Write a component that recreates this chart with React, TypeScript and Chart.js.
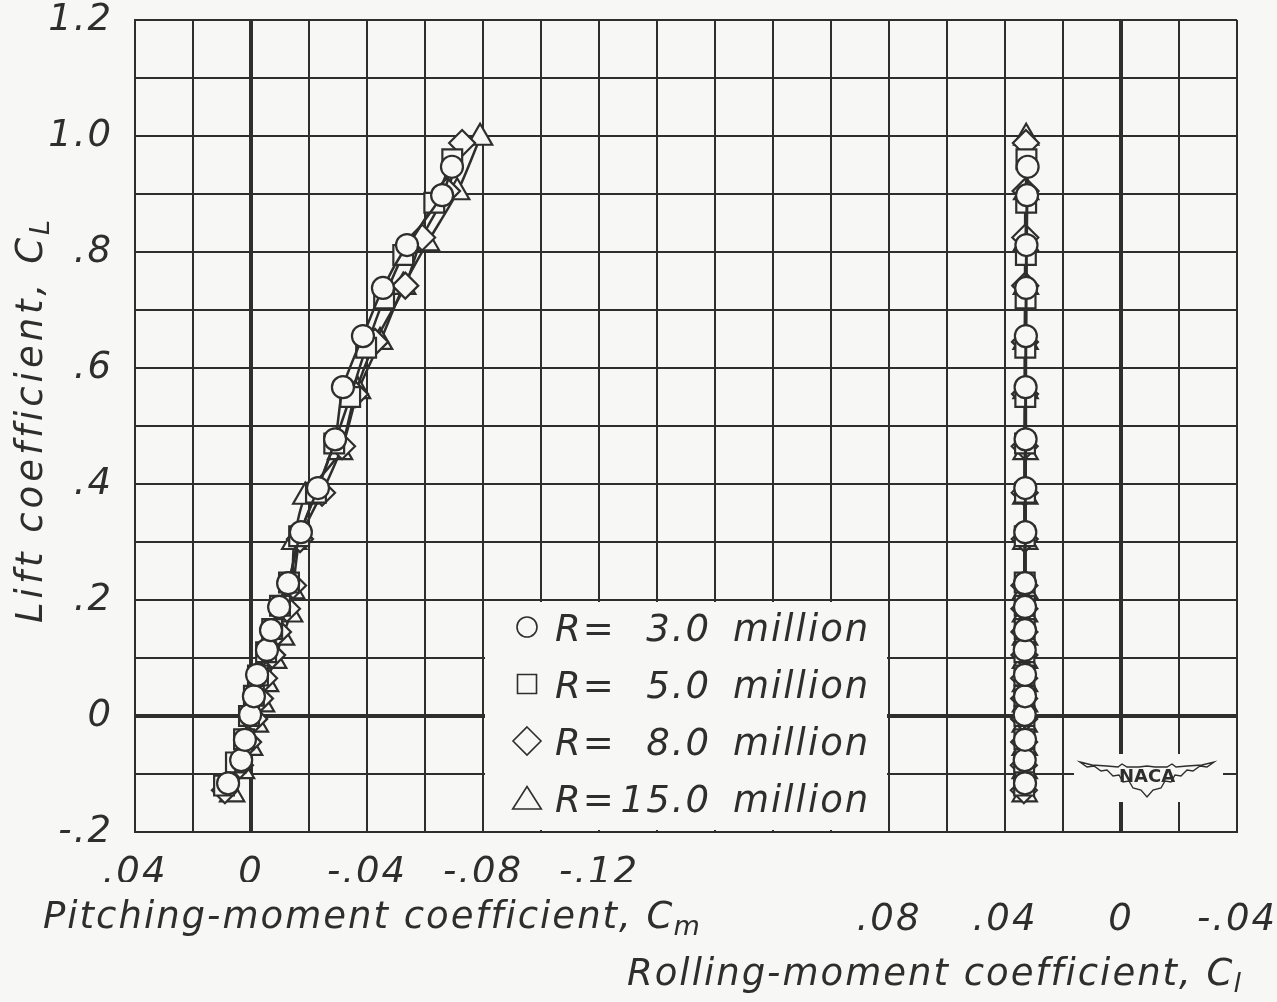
import React, { useEffect, useRef } from 'react';
import { Chart, registerables } from 'chart.js';

Chart.register(...registerables);

const FONT = "'DejaVu Sans', 'Liberation Sans', sans-serif";
const INK = '#2e2e2e';
const PAPER = '#f7f7f5';

// ---- data: lift coefficient / pitching-moment / rolling-moment for each Reynolds number ----
const reynoldsLabels = ['3.0', '5.0', '8.0', '15.0'];

const liftR3 = [-0.116, -0.076, -0.041, 0.002, 0.034, 0.071, 0.114, 0.148, 0.188, 0.229, 0.317, 0.393, 0.477, 0.567, 0.655, 0.738, 0.812, 0.898, 0.947];
const cmR3 = [0.0079, 0.0034, 0.0021, 0.0003, -0.001, -0.0021, -0.0055, -0.0069, -0.0097, -0.0128, -0.0172, -0.0231, -0.029, -0.0317, -0.0386, -0.0455, -0.0538, -0.0659, -0.0693];
const clR3 = [0.0331, 0.0332, 0.0331, 0.0332, 0.0331, 0.0331, 0.0332, 0.0331, 0.0331, 0.0331, 0.0330, 0.0330, 0.0329, 0.0329, 0.0328, 0.0327, 0.0326, 0.0324, 0.0322];

const liftR5 = [-0.12, -0.08, -0.04, 0.0, 0.035, 0.07, 0.11, 0.15, 0.19, 0.23, 0.31, 0.385, 0.47, 0.55, 0.635, 0.72, 0.795, 0.885, 0.96];
const cmR5 = [0.0093, 0.0052, 0.0024, 0.0007, -0.001, -0.0024, -0.0052, -0.0073, -0.01, -0.0131, -0.0166, -0.0224, -0.0287, -0.0342, -0.0397, -0.0459, -0.0525, -0.0632, -0.0694];
const clR5 = [0.0334, 0.0334, 0.0333, 0.0333, 0.0333, 0.0333, 0.0333, 0.0332, 0.0332, 0.0332, 0.0332, 0.0331, 0.0331, 0.0330, 0.0330, 0.0329, 0.0328, 0.0327, 0.0326];

const liftR8 = [-0.128, -0.085, -0.045, -0.005, 0.03, 0.065, 0.105, 0.145, 0.185, 0.225, 0.305, 0.385, 0.465, 0.555, 0.645, 0.742, 0.825, 0.905, 0.988];
const cmR8 = [0.009, 0.0038, 0.001, -0.0011, -0.0031, -0.0045, -0.0073, -0.0093, -0.0124, -0.0145, -0.0169, -0.0245, -0.0314, -0.0359, -0.0428, -0.0532, -0.059, -0.0676, -0.0728];
const clR8 = [0.0335, 0.0335, 0.0334, 0.0334, 0.0334, 0.0334, 0.0333, 0.0333, 0.0333, 0.0333, 0.0332, 0.0332, 0.0332, 0.0331, 0.0331, 0.0330, 0.0330, 0.0329, 0.0328];

const liftR15 = [-0.135, -0.095, -0.055, -0.015, 0.02, 0.055, 0.095, 0.135, 0.175, 0.215, 0.3, 0.378, 0.455, 0.56, 0.645, 0.74, 0.815, 0.903, 0.997];
const cmR15 = [0.0065, 0.0031, 0.0003, -0.0017, -0.0038, -0.0052, -0.008, -0.0107, -0.0135, -0.0142, -0.0149, -0.0187, -0.0307, -0.0369, -0.0445, -0.0525, -0.0607, -0.0711, -0.079];
const clR15 = [0.0332, 0.0332, 0.0332, 0.0332, 0.0331, 0.0331, 0.0331, 0.0331, 0.0331, 0.0330, 0.0330, 0.0330, 0.0329, 0.0329, 0.0329, 0.0328, 0.0328, 0.0327, 0.0327];

// ---- tick labels ----
const cmTickValues = [0.04, 0, -0.04, -0.08, -0.12];
const cmTickLabels = ['.04', '0', '-.04', '-.08', '-.12'];
const clTickValues = [0.08, 0.04, 0, -0.04];
const clTickLabels = ['.08', '.04', '0', '-.04'];
const liftTickValues = [1.2, 1.0, 0.8, 0.6, 0.4, 0.2, 0, -0.2];
const liftTickLabels = ['1.2', '1.0', '.8', '.6', '.4', '.2', '0', '-.2'];

const yTitle = ['Lift coefficient, C', 'L'];
const cmTitle = ['Pitching-moment coefficient, C', 'm'];
const clTitle = ['Rolling-moment coefficient, C', 'l'];

const lookup = (values: number[], labels: string[], v: number) => {
  const i = values.findIndex((t) => Math.abs(t - v) < 1e-6);
  return i >= 0 ? labels[i] : '';
};

const series = [
  { lift: liftR3, cm: cmR3, cl: clR3, style: 'circle', radius: 11 },
  { lift: liftR5, cm: cmR5, cl: clR5, style: 'rect', radius: 14 },
  { lift: liftR8, cm: cmR8, cl: clR8, style: 'rectRot', radius: 13 },
  { lift: liftR15, cm: cmR15, cl: clR15, style: 'triangle', radius: 14 },
];

function drawMarker(ctx: CanvasRenderingContext2D, style: string, x: number, y: number, s: number) {
  ctx.beginPath();
  if (style === 'circle') {
    ctx.arc(x, y, s, 0, Math.PI * 2);
  } else if (style === 'rect') {
    ctx.rect(x - s, y - s, 2 * s, 2 * s);
  } else if (style === 'rectRot') {
    const d = s * 1.4;
    ctx.moveTo(x, y - d);
    ctx.lineTo(x + d, y);
    ctx.lineTo(x, y + d);
    ctx.lineTo(x - d, y);
    ctx.closePath();
  } else {
    const w = s * 1.3;
    ctx.moveTo(x, y - s * 1.05);
    ctx.lineTo(x + w, y + s * 1.0);
    ctx.lineTo(x - w, y + s * 1.0);
    ctx.closePath();
  }
  ctx.fill();
  ctx.stroke();
}

function drawSubText(ctx: CanvasRenderingContext2D, main: string, sub: string, x: number, y: number, size: number) {
  ctx.font = `italic ${size}px ${FONT}`;
  ctx.textAlign = 'left';
  ctx.textBaseline = 'alphabetic';
  ctx.fillText(main, x, y);
  const w = ctx.measureText(main).width;
  ctx.font = `italic ${Math.round(size * 0.72)}px ${FONT}`;
  ctx.fillText(sub, x + w - 1, y + size * 0.2);
}

const paperPlugin = {
  id: 'paper',
  beforeDraw(chart: any) {
    const { ctx, width, height } = chart;
    ctx.save();
    ctx.fillStyle = PAPER;
    ctx.fillRect(0, 0, width, height);
    ctx.restore();
    (ctx as any).letterSpacing = '2px';
  },
};

const overlayPlugin = {
  id: 'overlay',
  afterDatasetsDraw(chart: any) {
    const { ctx, chartArea } = chart;
    const { x, x2, y } = chart.scales;
    ctx.save();
    // legend box
    const lx0 = x.getPixelForValue(-0.08);
    const lx1 = x2.getPixelForValue(0.08);
    const ly0 = y.getPixelForValue(0.2);
    const ly1 = chartArea.bottom;
    ctx.fillStyle = PAPER;
    ctx.fillRect(lx0 + 2, ly0 + 2, lx1 - lx0 - 4, ly1 - ly0 - 4);
    const rowY = [27, 84, 141, 198];
    const mSize = [10, 9.5, 10, 11];
    for (let i = 0; i < 4; i++) {
      const cy = ly0 + rowY[i];
      ctx.strokeStyle = INK;
      ctx.fillStyle = PAPER;
      ctx.lineWidth = 1.6;
      drawMarker(ctx, series[i].style, lx0 + 44, cy, mSize[i]);
      ctx.fillStyle = INK;
      ctx.font = `italic 37px ${FONT}`;
      ctx.textBaseline = 'alphabetic';
      ctx.textAlign = 'left';
      ctx.fillText('R=', lx0 + 72, cy + 14);
      ctx.textAlign = 'right';
      ctx.fillText(reynoldsLabels[i], lx0 + 228, cy + 14);
      ctx.textAlign = 'left';
      ctx.fillText('million', lx0 + 250, cy + 14);
    }

    // NACA logo
    const cx = x2.getPixelForValue(0) + 26;
    const cy = y.getPixelForValue(-0.1) + 2;
    ctx.fillStyle = PAPER;
    ctx.fillRect(cx - 73, cy - 22, 149, 48);
    const upper = [[-67, -14], [-55, -11], [-40, -10], [-29, -9], [-25, -12], [-20, -9], [-8, -9], [0, -10]];
    const lower = [[-67, -14], [-60, -9], [-53, -10], [-46, -5], [-40, -6], [-34, 0], [-28, -1], [-24, 6], [-18, 5], [-14, 12], [-6, 14], [0, 21]];
    ctx.beginPath();
    ctx.moveTo(cx + upper[0][0], cy + upper[0][1]);
    for (const p of upper) ctx.lineTo(cx + p[0], cy + p[1]);
    for (let i = upper.length - 1; i >= 0; i--) ctx.lineTo(cx - upper[i][0], cy + upper[i][1]);
    for (const p of lower) ctx.lineTo(cx - p[0], cy + p[1]);
    for (let i = lower.length - 1; i >= 0; i--) ctx.lineTo(cx + lower[i][0], cy + lower[i][1]);
    ctx.closePath();
    ctx.fillStyle = PAPER;
    ctx.fill();
    ctx.strokeStyle = INK;
    ctx.lineWidth = 1.4;
    ctx.stroke();
    (ctx as any).letterSpacing = '0px';
    ctx.fillStyle = INK;
    ctx.font = `bold 18px ${FONT}`;
    ctx.textAlign = 'center';
    ctx.textBaseline = 'middle';
    ctx.fillText('NACA', cx, cy + 1);
    ctx.restore();
  },
  afterDraw(chart: any) {
    const { ctx } = chart;
    ctx.save();
    ctx.fillStyle = INK;
    // y title (rotated)
    ctx.save();
    (ctx as any).letterSpacing = '4px';
    ctx.translate(42, 623);
    ctx.rotate(-Math.PI / 2);
    drawSubText(ctx, yTitle[0], yTitle[1], 0, 0, 37);
    ctx.restore();
    (ctx as any).letterSpacing = '2px';
    drawSubText(ctx, cmTitle[0], cmTitle[1], 43, 928, 37);
    drawSubText(ctx, clTitle[0], clTitle[1], 627, 985, 37);
    ctx.restore();
  },
};

export default function App() {
  const ref = useRef<HTMLCanvasElement | null>(null);

  useEffect(() => {
    document.body.style.margin = '0';
    document.body.style.overflow = 'hidden';
    const canvas = ref.current;
    if (!canvas) return;

    const datasets: any[] = [];
    series.forEach((s, i) => {
      datasets.push({
        label: `R= ${reynoldsLabels[i]} million`,
        data: s.lift.map((cl, k) => ({ x: s.cm[k], y: cl })),
        xAxisID: 'x',
        yAxisID: 'y',
        showLine: true,
        borderColor: INK,
        borderWidth: 2.5,
        tension: 0.25,
        pointStyle: s.style,
        pointRadius: s.radius,
        pointBorderWidth: 2.2,
        pointBorderColor: INK,
        pointBackgroundColor: PAPER,
      });
    });
    series.forEach((s, i) => {
      datasets.push({
        label: `R= ${reynoldsLabels[i]} million (rolling)`,
        data: s.lift.map((cl, k) => ({ x: s.cl[k], y: cl })),
        xAxisID: 'x2',
        yAxisID: 'y',
        showLine: true,
        borderColor: INK,
        borderWidth: 3,
        tension: 0.25,
        pointStyle: s.style,
        pointRadius: s.radius,
        pointBorderWidth: 2.2,
        pointBorderColor: INK,
        pointBackgroundColor: PAPER,
      });
    });

    const tickFont = { family: FONT, size: 37, style: 'italic' as const, lineHeight: 1 };
    const noPad = (scale: any) => {
      scale.paddingTop = 0;
      scale.paddingBottom = 0;
      scale.paddingLeft = 0;
      scale.paddingRight = 0;
    };

    const chart = new Chart(canvas, {
      type: 'scatter',
      data: { datasets },
      options: {
        animation: false,
        responsive: false,
        layout: { padding: { top: 20, right: 40, left: 0, bottom: 0 } },
        plugins: { legend: { display: false }, tooltip: { enabled: false } },
        scales: {
          x: {
            type: 'linear',
            position: 'bottom',
            weight: 0,
            min: -0.34,
            max: 0.04,
            reverse: true,
            grid: {
              color: INK,
              drawTicks: false,
              lineWidth: (c: any) => {
                const v = c.tick ? c.tick.value : 1;
                return Math.abs(v) < 1e-6 || Math.abs(v + 0.3) < 1e-6 ? 4 : 2;
              },
            },
            border: { display: true, color: INK, width: 2 },
            ticks: {
              stepSize: 0.02,
              autoSkip: false,
              maxRotation: 0,
              minRotation: 0,
              padding: 23,
              color: INK,
              font: tickFont,
              callback: (v: any) => lookup(cmTickValues, cmTickLabels, Number(v)),
            },
            afterFit: (scale: any) => {
              scale.height = 50;
              noPad(scale);
            },
          },
          x2: {
            type: 'linear',
            position: 'bottom',
            weight: 1,
            min: -0.04,
            max: 0.34,
            reverse: true,
            grid: { display: false, drawTicks: false },
            border: { display: false },
            ticks: {
              stepSize: 0.02,
              autoSkip: false,
              maxRotation: 0,
              minRotation: 0,
              padding: 20,
              color: INK,
              font: tickFont,
              callback: (v: any) => lookup(clTickValues, clTickLabels, Number(v)),
            },
            afterFit: (scale: any) => {
              scale.height = 120;
              noPad(scale);
            },
          },
          y: {
            type: 'linear',
            position: 'left',
            min: -0.2,
            max: 1.2,
            grid: {
              color: INK,
              drawTicks: false,
              lineWidth: (c: any) => (c.tick && Math.abs(c.tick.value) < 1e-6 ? 4 : 2),
            },
            border: { display: true, color: INK, width: 2 },
            ticks: {
              stepSize: 0.1,
              autoSkip: false,
              padding: 22,
              color: INK,
              font: tickFont,
              callback: (v: any) => lookup(liftTickValues, liftTickLabels, Number(v)),
            },
            afterFit: (scale: any) => {
              scale.width = 135;
              noPad(scale);
            },
          },
        },
      },
      plugins: [paperPlugin, overlayPlugin],
    });

    return () => chart.destroy();
  }, []);

  return (
    <div style={{ width: 1277, height: 1002, background: PAPER }}>
      <canvas ref={ref} width={1277} height={1002} style={{ display: 'block' }} />
    </div>
  );
}
